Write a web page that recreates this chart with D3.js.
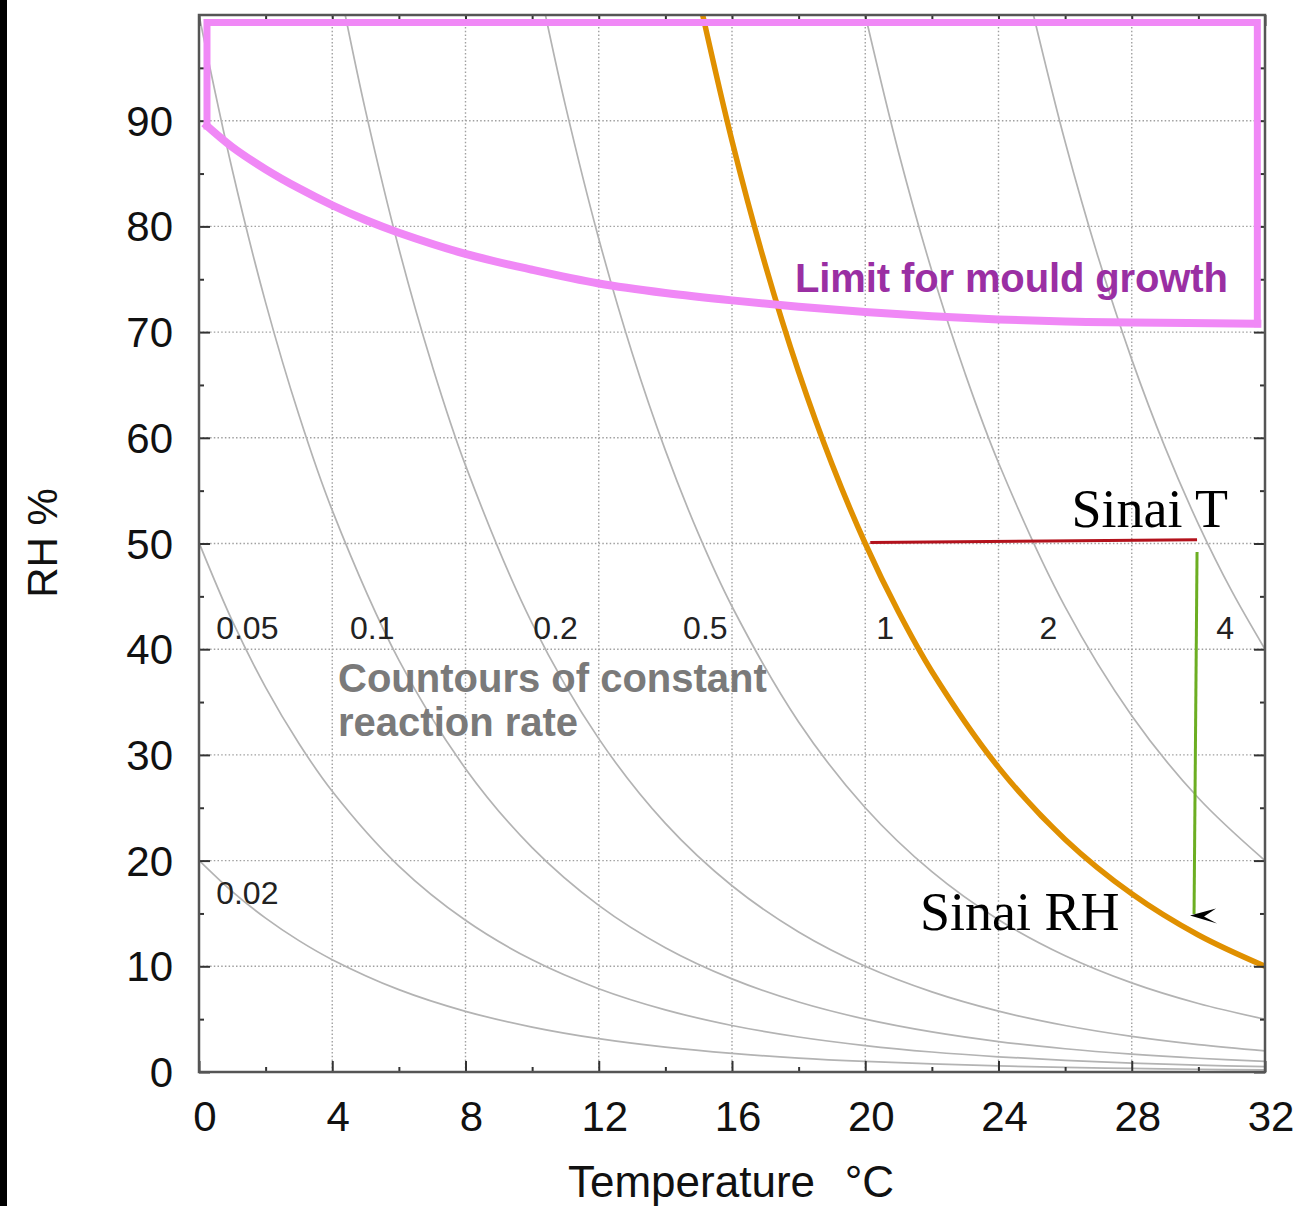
<!DOCTYPE html>
<html>
<head>
<meta charset="utf-8">
<script src="https://cdn.jsdelivr.net/npm/d3@7"></script>
<style>
  body { margin: 0; background: #fff; }
  svg { display: block; }
</style>
</head>
<body>
<script>
// axis ticks
const tempTicks = [0, 4, 8, 12, 16, 20, 24, 28, 32];
const tempMinor = [2, 6, 10, 14, 18, 22, 26, 30];
const rhTicks = [0, 10, 20, 30, 40, 50, 60, 70, 80, 90];
const rhMinor = [5, 15, 25, 35, 45, 55, 65, 75, 85, 95];

// contours of constant reaction rate, [T, RH]
const c002 = [[0,20.03],[1,17.07],[2,14.56],[3,12.43],[4,10.63],[6,7.79],[8,5.74],[10,4.25],[12,3.15],[14,2.35],[16,1.76],[18,1.32],[20,1.0],[22,0.76],[24,0.58],[26,0.44],[28,0.34],[30,0.26],[32,0.2]];
const c005 = [[0,50.08],[1,42.67],[2,36.39],[3,31.08],[4,26.56],[6,19.48],[8,14.35],[10,10.61],[12,7.88],[14,5.88],[16,4.40],[18,3.31],[20,2.5],[22,1.89],[24,1.44],[26,1.10],[28,0.84],[30,0.65],[32,0.5]];
const c01 = [[0,100],[1,85.33],[2,72.79],[3,62.15],[4,53.13],[6,38.96],[8,28.70],[10,21.23],[12,15.77],[14,11.76],[16,8.81],[18,6.62],[20,5.0],[22,3.79],[24,2.88],[26,2.20],[28,1.69],[30,1.30],[32,1.0]];
const c02 = [[4.39,100],[5,90.93],[6,77.91],[7,66.83],[8,57.39],[10,42.45],[12,31.54],[14,23.52],[16,17.62],[18,13.25],[20,10.0],[22,7.58],[24,5.76],[26,4.40],[28,3.37],[30,2.59],[32,2.0]];
const c05 = [[10.4,100],[11,91.43],[12,78.84],[13,68.05],[14,58.81],[15,50.86],[16,44.04],[18,33.12],[20,25.0],[22,18.95],[24,14.41],[26,11.0],[28,8.43],[30,6.48],[32,5.0]];
const c1 = [[15.12,100],[16,88.09],[17,76.35],[18,66.24],[19,57.52],[20,50.0],[21,43.51],[22,37.89],[24,28.82],[26,22.0],[28,16.86],[30,12.96],[32,10.0]];
const c2 = [[20,100],[21,87.02],[22,75.78],[23,66.06],[24,57.64],[26,44.0],[28,33.71],[30,25.92],[32,20.0]];
const c4 = [[25.05,100],[26,88.0],[27,77.0],[28,67.42],[29,59.09],[30,51.84],[31,45.51],[32,40.0]];
const contours = [c002, c005, c01, c02, c05, c1, c2, c4];

// contour labels
const rateLabels = ["0.02", "0.05", "0.1", "0.2", "0.5", "1", "2", "4"];
const rateLabelT = [1.45, 1.45, 5.2, 10.7, 15.2, 20.6, 25.5, 30.8];
const rateLabelRH = [15.9, 41.0, 41.0, 41.0, 41.0, 41.0, 41.0, 41.0];

// limit for mould growth
const mouldCurve = [[0.24,89.5],[1,87.5],[2,85.4],[3,83.6],[4,82.0],[5,80.6],[6,79.4],[8,77.4],[10,75.9],[12,74.6],[14,73.7],[16,73.0],[18,72.4],[20,71.9],[22,71.5],[24,71.2],[26,71.0],[28,70.9],[31.77,70.8]];
const mouldBox = [[0.24,89.5],[0.24,99.3],[31.77,99.3],[31.77,70.8]];

// Sinai annotations
const sinaiT = [[20.15,50.1],[29.96,50.35]];
const sinaiRH = [[29.96,49.2],[29.87,14.95]];
const sinaiArrowTip = [29.75, 14.8];

const W = 1298, H = 1206;
const svg = d3.select("body").append("svg")
  .attr("width", W)
  .attr("height", H);

svg.append("rect").attr("width", W).attr("height", H).attr("fill", "#fff");
svg.append("rect").attr("width", 7).attr("height", H).attr("fill", "#000");

const x = d3.scaleLinear().domain([0, 32]).range([199, 1265]);
const y = d3.scaleLinear().domain([0, 100]).range([1072, 15]);

svg.append("defs").append("clipPath").attr("id", "plot")
  .append("rect")
  .attr("x", x(0)).attr("y", y(100))
  .attr("width", x(32) - x(0)).attr("height", y(0) - y(100));

// grid
const grid = svg.append("g")
  .attr("stroke", "#a0a0a0")
  .attr("stroke-width", 1.4)
  .attr("stroke-dasharray", "1.5,2.2");
grid.selectAll(".gx")
  .data(tempTicks.slice(1, -1))
  .enter().append("line")
  .attr("x1", d => x(d)).attr("x2", d => x(d))
  .attr("y1", y(0)).attr("y2", y(100));
grid.selectAll(".gy")
  .data(rhTicks.slice(1))
  .enter().append("line")
  .attr("x1", x(0)).attr("x2", x(32))
  .attr("y1", d => y(d)).attr("y2", d => y(d));

const line = d3.line()
  .x(d => x(d[0]))
  .y(d => y(d[1]))
  .curve(d3.curveCatmullRom.alpha(0.5));

const plot = svg.append("g").attr("clip-path", "url(#plot)");

plot.selectAll(".contour")
  .data(contours)
  .enter().append("path")
  .attr("d", line)
  .attr("fill", "none")
  .attr("stroke", "#b3b3b3")
  .attr("stroke-width", 1.7);

// ticks on all four sides
function ticks(axis, vals, size, transform) {
  const g = svg.append("g")
    .attr("transform", transform)
    .call(axis.tickValues(vals).tickSize(-size).tickSizeOuter(0).tickFormat(""));
  g.select(".domain").remove();
  g.selectAll("line").attr("stroke", "#333").attr("stroke-width", 2);
}
ticks(d3.axisBottom(x), tempTicks, 11, `translate(0,${y(0)})`);
ticks(d3.axisBottom(x), tempMinor, 5, `translate(0,${y(0)})`);
ticks(d3.axisTop(x), tempTicks, 11, `translate(0,${y(100)})`);
ticks(d3.axisTop(x), tempMinor, 5, `translate(0,${y(100)})`);
ticks(d3.axisLeft(y), rhTicks, 11, `translate(${x(0)},0)`);
ticks(d3.axisLeft(y), rhMinor, 5, `translate(${x(0)},0)`);
ticks(d3.axisRight(y), rhTicks, 11, `translate(${x(32)},0)`);
ticks(d3.axisRight(y), rhMinor, 5, `translate(${x(32)},0)`);

svg.append("rect")
  .attr("x", x(0)).attr("y", y(100))
  .attr("width", x(32) - x(0)).attr("height", y(0) - y(100))
  .attr("fill", "none")
  .attr("stroke", "#555")
  .attr("stroke-width", 2.5);

// tick labels
svg.append("g")
  .attr("font-family", "'Liberation Sans', Arial, sans-serif")
  .attr("font-size", 42)
  .attr("fill", "#111")
  .attr("text-anchor", "middle")
  .selectAll("text")
  .data(tempTicks)
  .enter().append("text")
  .attr("x", d => x(d) + 6)
  .attr("y", 1131)
  .text(d => d);

svg.append("g")
  .attr("font-family", "'Liberation Sans', Arial, sans-serif")
  .attr("font-size", 42)
  .attr("fill", "#111")
  .attr("text-anchor", "end")
  .selectAll("text")
  .data(rhTicks)
  .enter().append("text")
  .attr("x", 173)
  .attr("y", d => y(d) + 15)
  .text(d => d);

const xTitle = svg.append("g")
  .attr("font-family", "'Liberation Sans', Arial, sans-serif")
  .attr("font-size", 44)
  .attr("fill", "#111");
xTitle.append("text").attr("x", 568).attr("y", 1197).text("Temperature");
xTitle.append("text").attr("x", 894).attr("y", 1197).attr("text-anchor", "end").text("°C");

svg.append("text")
  .attr("transform", "translate(57,543) rotate(-90)")
  .attr("text-anchor", "middle")
  .attr("font-family", "'Liberation Sans', Arial, sans-serif")
  .attr("font-size", 42)
  .attr("fill", "#111")
  .text("RH %");

// mould growth limit
const straight = d3.line().x(d => x(d[0])).y(d => y(d[1]));
const mould = svg.append("g")
  .attr("fill", "none")
  .attr("stroke", "#f088f6")
  .attr("stroke-linejoin", "miter")
  .attr("stroke-linecap", "square");
mould.append("path").attr("d", straight(mouldBox)).attr("stroke-width", 7);
mould.append("path").attr("d", line(mouldCurve)).attr("stroke-width", 8);

// sinai rate contour
plot.append("path")
  .attr("d", line(c1))
  .attr("fill", "none")
  .attr("stroke", "#e09000")
  .attr("stroke-width", 5.5);

svg.append("path")
  .attr("d", straight(sinaiT))
  .attr("stroke", "#b3121c")
  .attr("stroke-width", 3)
  .attr("fill", "none");

svg.append("path")
  .attr("d", straight(sinaiRH))
  .attr("stroke", "#6cae22")
  .attr("stroke-width", 3)
  .attr("fill", "none");

svg.append("path")
  .attr("transform", `translate(${x(sinaiArrowTip[0])},${y(sinaiArrowTip[1])})`)
  .attr("d", "M0,0 L26,-7 L14,1 L27,8 Z")
  .attr("fill", "#000");

// contour labels
svg.append("g")
  .attr("font-family", "'Liberation Sans', Arial, sans-serif")
  .attr("font-size", 32)
  .attr("fill", "#222")
  .attr("text-anchor", "middle")
  .selectAll("text")
  .data(rateLabels)
  .enter().append("text")
  .attr("x", (d, i) => x(rateLabelT[i]))
  .attr("y", (d, i) => y(rateLabelRH[i]))
  .text(d => d);

svg.append("text")
  .attr("x", 795).attr("y", 292)
  .attr("font-family", "'Liberation Sans', Arial, sans-serif")
  .attr("font-weight", "bold")
  .attr("font-size", 40)
  .attr("fill", "#9a2fa3")
  .attr("textLength", 433)
  .text("Limit for mould growth");

const cc = svg.append("g")
  .attr("font-family", "'Liberation Sans', Arial, sans-serif")
  .attr("font-weight", "bold")
  .attr("font-size", 40)
  .attr("fill", "#7a7a7a");
cc.append("text").attr("x", 338).attr("y", 692).text("Countours of constant");
cc.append("text").attr("x", 338).attr("y", 736).text("reaction rate");

const serif = svg.append("g")
  .attr("font-family", "'Liberation Serif', 'Times New Roman', serif")
  .attr("font-size", 54)
  .attr("fill", "#000");
serif.append("text").attr("x", 1228).attr("y", 527).attr("text-anchor", "end").text("Sinai T");
serif.append("text").attr("x", 920).attr("y", 930).text("Sinai RH");
</script>
</body>
</html>
